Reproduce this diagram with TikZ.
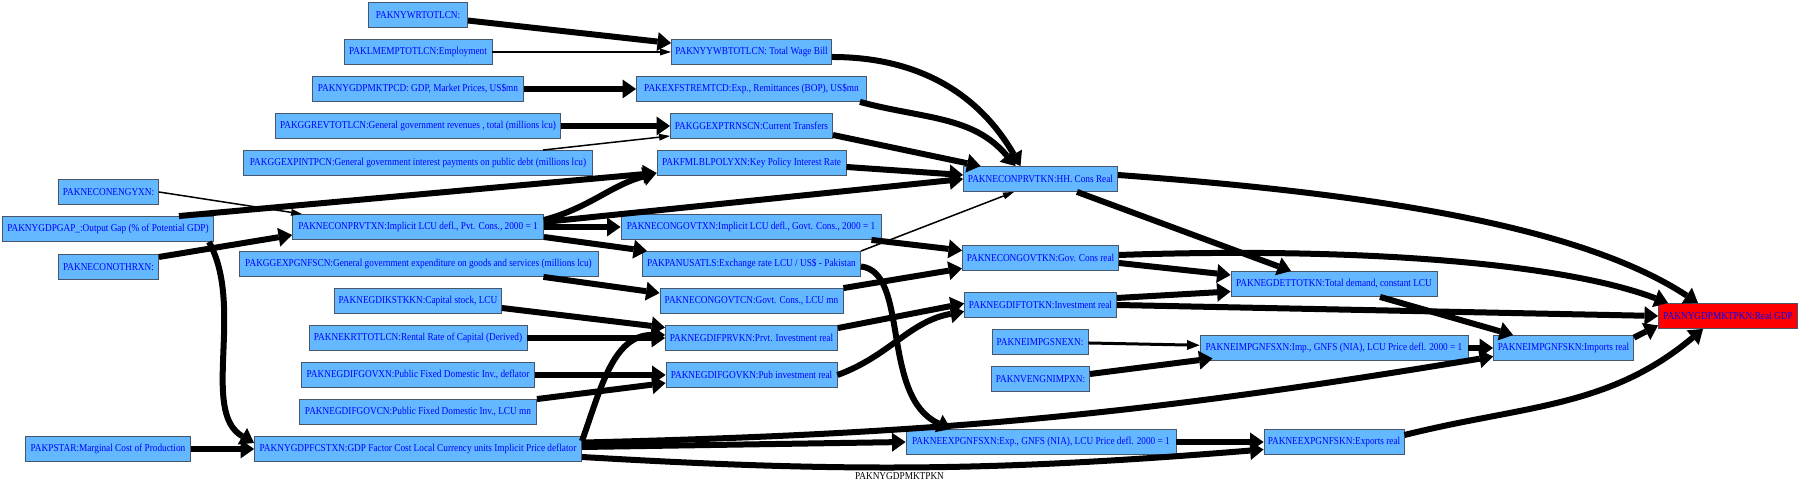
\documentclass[tikz,border=0pt]{standalone}
\usepackage{fontspec}
\setmainfont{Liberation Serif}[FakeStretch=0.88]
\usepackage{tikz}
\usetikzlibrary{arrows.meta,positioning}
\definecolor{vblue}{RGB}{99,184,255}
\definecolor{vline}{RGB}{72,86,106}
\definecolor{vtext}{RGB}{0,0,255}
\tikzset{
    vnode/.style={draw=vline, fill=vblue, text=vtext, line width=0.5pt,
                  minimum width=#1, minimum height=0.5cm, inner sep=0.5pt,
                  font=\fontsize{6}{7}\selectfont},
    gdpnode/.style={vnode=#1, fill=red},
}

\begin{document}
\begin{tikzpicture}[
    arr/.style={-{Triangle[length=2.7mm,width=3.8mm,line width=0pt]}, line width=1.2mm},
    marr/.style={-{Triangle[length=2.5mm,width=2mm,line width=0pt]}, line width=0.6mm},
    tarr/.style={-{Triangle[length=2.2mm,width=1.4mm,line width=0pt]}, line width=0.3mm}
]
    \useasboundingbox (0,0) rectangle (36,9.74);

    % first column
    \node[vnode=2cm] (engy) at (2.17,5.90) {PAKNECONENGYXN:};
    \node[vnode=4.22cm] (gap) at (2.16,5.16) {PAKNYGDPGAP\_:Output Gap (\% of Potential GDP)};
    \node[vnode=2cm] (othr) at (2.17,4.40) {PAKNECONOTHRXN:};
    \node[vnode=3.3cm] (pstar) at (2.16,0.76) {PAKPSTAR:Marginal Cost of Production};

    % second column
    \node[vnode=1.98cm] (wrt) at (8.36,9.44) {PAKNYWRTOTLCN:};
    \node[vnode=2.96cm] (lmemp) at (8.36,8.70) {PAKLMEMPTOTLCN:Employment};
    \node[vnode=4.23cm] (gdpusd) at (8.36,7.96) {PAKNYGDPMKTPCD: GDP, Market Prices, US\$mn};
    \node[vnode=5.7cm] (ggrev) at (8.36,7.22) {PAKGGREVTOTLCN:General government revenues , total (millions lcu)};
    \node[vnode=6.98cm] (ggint) at (8.36,6.48) {PAKGGEXPINTPCN:General government interest payments on public debt (millions lcu)};
    \node[vnode=5.02cm] (cprvtx) at (8.36,5.20) {PAKNECONPRVTXN:Implicit LCU defl., Pvt. Cons., 2000 = 1};
    \node[vnode=7.18cm] (ggnfs) at (8.37,4.46) {PAKGGEXPGNFSCN:General government expenditure on goods and services (millions lcu)};
    \node[vnode=3.34cm] (kstk) at (8.36,3.72) {PAKNEGDIKSTKKN:Capital stock, LCU};
    \node[vnode=4.36cm] (krt) at (8.36,2.98) {PAKNEKRTTOTLCN:Rental Rate of Capital (Derived)};
    \node[vnode=4.66cm] (gfgovx) at (8.36,2.24) {PAKNEGDIFGOVXN:Public Fixed Domestic Inv., deflator};
    \node[vnode=4.74cm] (gfgovc) at (8.36,1.50) {PAKNEGDIFGOVCN:Public Fixed Domestic Inv., LCU mn};
    \node[vnode=6.54cm] (fcst) at (8.36,0.76) {PAKNYGDPFCSTXN:GDP Factor Cost Local Currency units Implicit Price deflator};

    % third column
    \node[vnode=3.2cm] (wage) at (15.03,8.70) {PAKNYYWBTOTLCN: Total Wage Bill};
    \node[vnode=4.6cm] (remit) at (15.03,7.96) {PAKEXFSTREMTCD:Exp., Remittances (BOP), US\$mn};
    \node[vnode=3.24cm] (trans) at (15.03,7.22) {PAKGGEXPTRNSCN:Current Transfers};
    \node[vnode=3.78cm] (polrate) at (15.03,6.48) {PAKFMLBLPOLYXN:Key Policy Interest Rate};
    \node[vnode=5.2cm] (govtx) at (15.02,5.20) {PAKNECONGOVTXN:Implicit LCU defl., Govt. Cons., 2000 = 1};
    \node[vnode=4.36cm] (exrate) at (15.03,4.46) {PAKPANUSATLS:Exchange rate LCU / US\$ - Pakistan};
    \node[vnode=3.66cm] (govtc) at (15.03,3.72) {PAKNECONGOVTCN:Govt. Cons., LCU mn};
    \node[vnode=3.44cm] (ifprv) at (15.03,2.98) {PAKNEGDIFPRVKN:Prvt. Investment real};
    \node[vnode=3.42cm] (ifgov) at (15.03,2.24) {PAKNEGDIFGOVKN:Pub investment real};

    % fourth column
    \node[vnode=3.08cm] (conprv) at (20.81,6.16) {PAKNECONPRVTKN:HH. Cons Real};
    \node[vnode=3.12cm] (congov) at (20.81,4.58) {PAKNECONGOVTKN:Gov. Cons real};
    \node[vnode=3.04cm] (ifttot) at (20.81,3.64) {PAKNEGDIFTOTKN:Investment real};
    \node[vnode=1.92cm] (impsne) at (20.80,2.90) {PAKNEIMPGSNEXN:};
    \node[vnode=1.96cm] (nveng) at (20.81,2.16) {PAKNVENGNIMPXN:};
    \node[vnode=5.4cm] (expx) at (20.82,0.90) {PAKNEEXPGNFSXN:Exp., GNFS (NIA), LCU Price defl. 2000 = 1};

    % right part
    \node[vnode=4.12cm] (demand) at (26.68,4.06) {PAKNEGDETTOTKN:Total demand, constant LCU};
    \node[vnode=5.36cm] (impx) at (26.68,2.78) {PAKNEIMPGNFSXN:Imp., GNFS (NIA), LCU Price defl. 2000 = 1};
    \node[vnode=2.8cm] (expk) at (26.68,0.90) {PAKNEEXPGNFSKN:Exports real};
    \node[vnode=2.8cm] (impk) at (31.27,2.78) {PAKNEIMPGNFSKN:Imports real};
    \node[gdpnode=2.78cm] (gdp) at (34.56,3.42) {PAKNYGDPMKTPKN:Real GDP};

    \node[font=\fontsize{6}{7}\selectfont] (lbl) at (17.99,0.22) {PAKNYGDPMKTPKN};

    % edges
    \draw[arr] (wrt) -- (wage);
    \draw[tarr] (lmemp) -- (wage);
    \draw[arr] (gdpusd) -- (remit);
    \draw[arr] (ggrev) -- (trans);
    \draw[tarr] ([xshift=-1cm]ggint.north east) -- ([yshift=-0.2cm]trans.west);
    \draw[tarr] (engy.east) -- ([xshift=0.2cm]cprvtx.north west);
    \draw[arr] ([xshift=-0.7cm]gap.north east) -- ([yshift=-0.2cm]polrate.west);
    \draw[arr] ([yshift=0.2cm]othr.east) -- ([yshift=-0.16cm]cprvtx.west);
    \draw[arr] ([xshift=-0.1cm]gap.south east) .. controls (4.9,3.6) and (4.0,1.5) .. ([yshift=0.12cm]fcst.west);
    \draw[arr] (pstar) -- (fcst);

    \draw[arr] ([yshift=0.14cm]cprvtx.east) to[out=15,in=195] ([yshift=-0.2cm]polrate.west);
    \draw[arr] ([yshift=0.1cm]cprvtx.east) -- (conprv.west);
    \draw[arr] (cprvtx) -- (govtx);
    \draw[arr] ([yshift=-0.2cm]cprvtx.east) -- ([xshift=0.1cm]exrate.north west);
    \draw[arr] ([xshift=-1.1cm]ggnfs.south east) -- ([yshift=-0.1cm]govtc.north west);
    \draw[arr] ([yshift=-0.14cm]kstk.east) -- ([yshift=-0.05cm]ifprv.north west);
    \draw[arr] (krt) -- (ifprv);
    \draw[arr] (gfgovx) -- (ifgov);
    \draw[arr] (gfgovc.north east) -- ([yshift=-0.16cm]ifgov.west);

    \draw[arr] ([yshift=-0.1cm]fcst.north east) to[out=70,in=180] ([yshift=0.06cm]ifprv.west);
    \draw[arr] ([yshift=-0.13cm]fcst.north east) to[bend right=4] ([yshift=-0.17cm]impk.west);
    \draw[arr] ([yshift=0.04cm]fcst.east) -- (expx.west);
    \draw[arr] ([yshift=-0.16cm]fcst.east) to[bend right=4] ([yshift=-0.15cm]expk.west);

    \draw[arr] ([yshift=-0.1cm]wage.east) to[out=0,in=120] ([xshift=-0.4cm]conprv.north);
    \draw[arr] ([xshift=-0.14cm]remit.south east) to[out=-15,in=130] ([xshift=-0.5cm]conprv.north);
    \draw[arr] ([yshift=-0.18cm]trans.east) -- ([xshift=0.35cm]conprv.north west);
    \draw[arr] ([yshift=-0.08cm]polrate.east) -- ([yshift=0.08cm]conprv.west);
    \draw[arr] ([xshift=-0.2cm]govtx.south east) -- ([yshift=0.15cm]congov.west);
    \draw[tarr] (exrate.north east) -- ([xshift=-0.53cm]conprv.south);
    \draw[arr] ([yshift=-0.05cm]exrate.east) .. controls (18.2,4.3) and (17.6,1.8) .. ([xshift=-1.8cm]expx.north);
    \draw[arr] (govtc.north east) -- ([yshift=0.05cm]congov.south west);
    \draw[arr] ([yshift=-0.06cm]ifprv.north east) -- ([yshift=0.03cm]ifttot.west);
    \draw[arr] (ifgov.east) to[out=20,in=190] ([yshift=-0.13cm]ifttot.west);

    \draw[arr] ([xshift=0.73cm]conprv.south) -- ([xshift=-0.86cm]demand.north);
    \draw[arr] ([yshift=0.08cm]conprv.east) .. controls (27,5.9) and (31.5,5.3) .. ([xshift=-0.6cm]gdp.north);
    \draw[arr] ([yshift=-0.1cm]congov.east) -- ([yshift=0.18cm]demand.west);
    \draw[arr] ([yshift=0.06cm]congov.east) .. controls (27,4.8) and (31.2,4.5) .. ([xshift=0.2cm]gdp.north west);
    \draw[arr] ([yshift=0.14cm]ifttot.east) -- ([yshift=-0.15cm]demand.west);
    \draw[arr] (ifttot.east) -- (gdp.west);
    \draw[marr] (impsne) -- (impx);
    \draw[arr] ([yshift=0.1cm]nveng.east) -- ([xshift=0.26cm,yshift=0.05cm]impx.south west);
    \draw[arr] (expx) -- (expk);

    \draw[arr] ([xshift=0.92cm]demand.south) -- ([xshift=0.4cm]impk.north west);
    \draw[arr] (impx) -- (impk);
    \draw[arr] ([yshift=-0.05cm]impk.north east) -- ([yshift=0.07cm]gdp.south west);
    \draw[arr] ([yshift=0.14cm]expk.east) to[out=14,in=-140] ([xshift=-0.5cm]gdp.south);
\end{tikzpicture}
\end{document}
